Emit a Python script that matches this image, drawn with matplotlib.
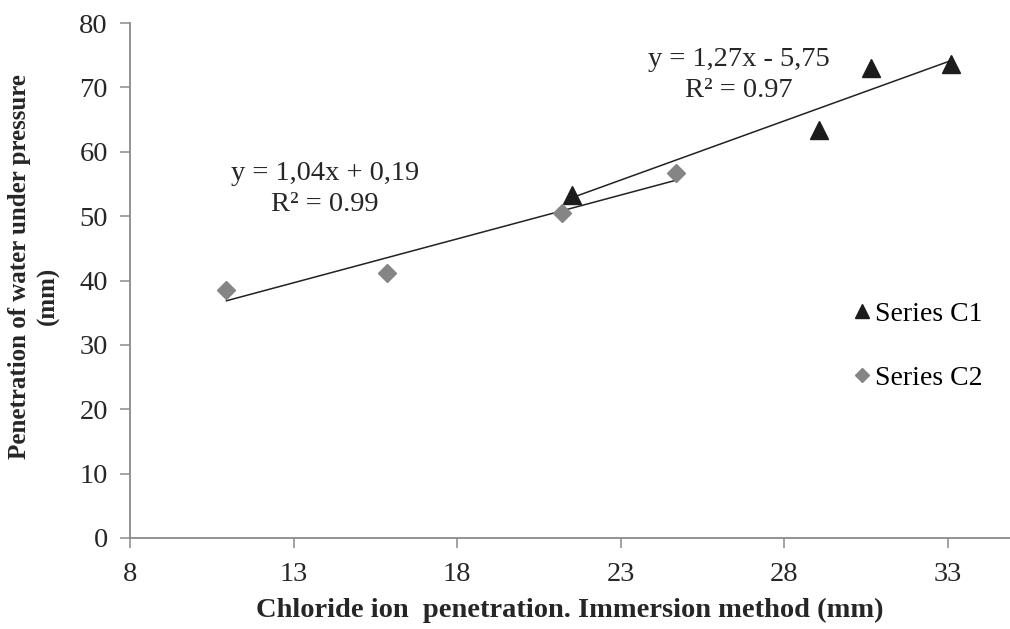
import numpy as np
import matplotlib
matplotlib.use("Agg")
import matplotlib.pyplot as plt
from matplotlib.lines import Line2D

# Chloride ion penetration (x) vs. water penetration under pressure (y), in mm
c1_x = [21.5, 29.05, 30.65, 33.1]
c1_y = [53.3, 63.4, 73.0, 73.7]
c2_x = [10.95, 15.85, 21.2, 24.7]
c2_y = [38.5, 41.1, 50.5, 56.7]

x_ticks = [8, 13, 18, 23, 28, 33]
y_ticks = [0, 10, 20, 30, 40, 50, 60, 70, 80]

series_names = ["Series C1", "Series C2"]
eq_c1 = ["y = 1,27x - 5,75", "R\u00b2 = 0.97"]
eq_c2 = ["y = 1,04x + 0,19", "R\u00b2 = 0.99"]

plt.rcParams["font.family"] = ["Liberation Serif", "DejaVu Serif"]

fig = plt.figure(figsize=(10.10, 6.29), dpi=100)
ax = fig.add_axes([0.1287, 0.1447, 0.8713, 0.8187])

axis_grey = "#8a8a8a"
text_col = "#262626"
c1_color = "#1c1c1c"
c2_color = "#858585"

# linear trend lines over each series' own x-range
for xs, ys in ((c1_x, c1_y), (c2_x, c2_y)):
    k, b = np.polyfit(xs, ys, 1)
    xx = np.array([min(xs), max(xs)])
    ax.plot(xx, k * xx + b, color="#222222", lw=1.1, zorder=2)

ax.plot(c1_x, c1_y, linestyle="none", marker="^", markersize=12.5,
        color=c1_color, zorder=3)
ax.plot(c2_x, c2_y, linestyle="none", marker="D", markersize=9.5,
        color=c2_color, zorder=3)

ax.set_xlim(8, 34.9)
ax.set_ylim(0, 80)
ax.set_xticks(x_ticks)
ax.set_yticks(y_ticks)

for s in ("top", "right"):
    ax.spines[s].set_visible(False)
for s in ("left", "bottom"):
    ax.spines[s].set_color(axis_grey)
    ax.spines[s].set_linewidth(1.3)
ax.tick_params(axis="both", colors=axis_grey, length=7, width=1.1,
               labelsize=20.5, labelcolor=text_col)
ax.tick_params(axis="y", pad=9)
ax.tick_params(axis="x", pad=10)

ax.set_xlabel("Chloride ion  penetration. Immersion method (mm)",
              fontsize=20.5, fontweight="bold", color=text_col, labelpad=8)

# two-line vertical axis title
fig.text(20 / 1010, 1 - 267 / 629, "Penetration of water under pressure",
         rotation=90, ha="center", va="center", fontsize=18,
         fontweight="bold", color=text_col)
fig.text(48 / 1010, 1 - 296 / 629, "(mm)",
         rotation=90, ha="center", va="center", fontsize=18,
         fontweight="bold", color=text_col)

ax.text(26.6, 71.9, eq_c1[0] + "\n" + eq_c1[1], ha="center", va="center",
        fontsize=20.5, color=text_col, linespacing=1.35)
ax.text(13.95, 54.2, eq_c2[0] + "\n" + eq_c2[1], ha="center", va="center",
        fontsize=20.5, color=text_col, linespacing=1.35)

handles = [
    Line2D([], [], linestyle="none", marker="^", markersize=10, color=c1_color),
    Line2D([], [], linestyle="none", marker="D", markersize=7, color=c2_color),
]
ax.legend(handles, series_names, loc="upper left",
          bbox_to_anchor=(0.81, 0.481), frameon=False, fontsize=20,
          handlelength=0.6, handletextpad=0.15, labelspacing=1.4,
          borderaxespad=0)

fig.savefig("out.png", dpi=100, facecolor="white")
